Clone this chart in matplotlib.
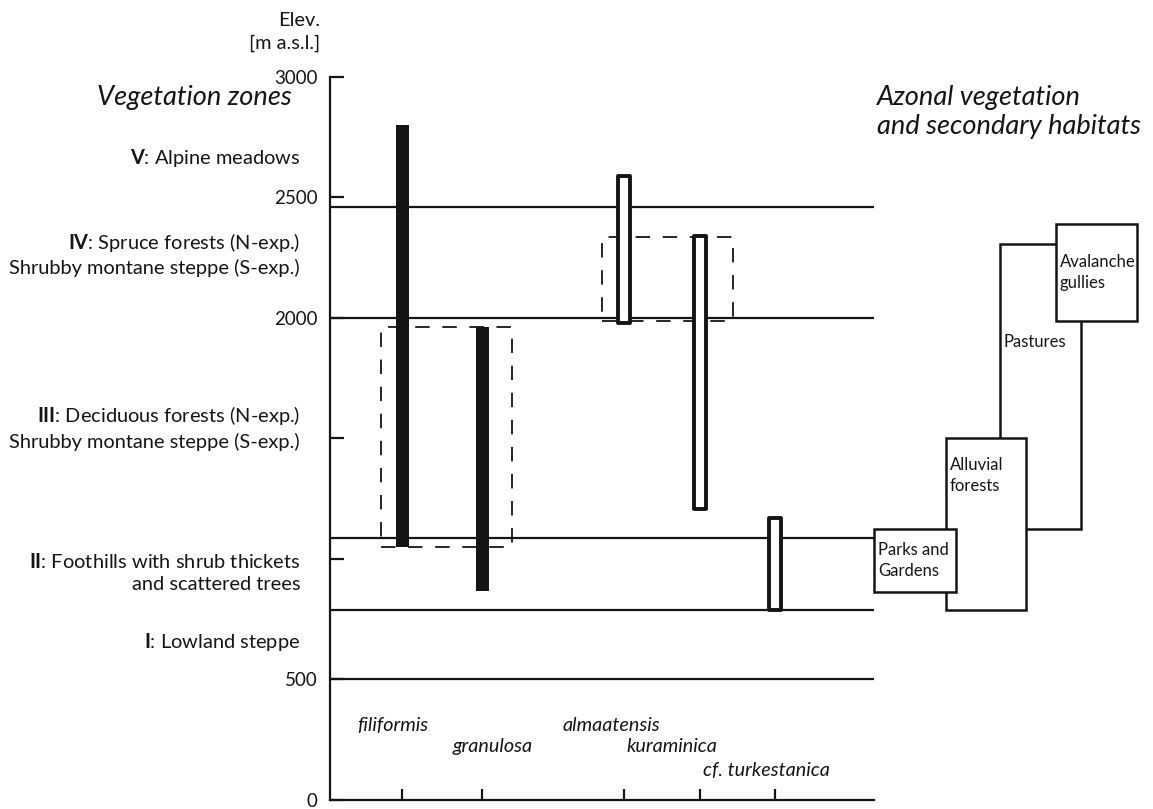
import matplotlib
matplotlib.use("Agg")
import matplotlib.pyplot as plt
from matplotlib.patches import Rectangle

# ---- data ----
species = ["filiformis", "granulosa", "almaatensis", "kuraminica", "cf. turkestanica"]
sp_x = [72, 152, 294, 370, 445]
sp_low = [1050, 865, 1980, 1205, 790]
sp_high = [2800, 1960, 2590, 2340, 1170]
sp_open = [False, False, True, True, True]

zone_bounds = [500, 790, 1085, 2000, 2460]
zone_labels = [
    r"$\mathbf{I}$: Lowland steppe",
    r"$\mathbf{II}$: Foothills with shrub thickets" + "\nand scattered trees",
    r"$\mathbf{III}$: Deciduous forests (N-exp.)" + "\nShrubby montane steppe (S-exp.)",
    r"$\mathbf{IV}$: Spruce forests (N-exp.)" + "\nShrubby montane steppe (S-exp.)",
    r"$\mathbf{V}$: Alpine meadows",
]
zone_label_y = [656, 944, 1545, 2265, 2664]

# dashed groups (x range, elevation range)
grp_x0 = [51, 272]
grp_x1 = [182, 403]
grp_low = [1050, 1985]
grp_high = [1960, 2335]

# azonal habitats
az_names = ["Pastures", "Alluvial\nforests", "Parks and\nGardens", "Avalanche\ngullies"]
az_x0 = [670, 616, 544, 726]
az_x1 = [751, 696, 626, 807]
az_low = [1124, 790, 862, 1985]
az_high = [2305, 1500, 1125, 2390]
az_label_y = [1900, 1346, 993, 2188]

yticks = [0, 500, 1000, 1500, 2000, 2500, 3000]
ytick_labels = ["0", "500", "", "", "2000", "2500", "3000"]

# ---- style ----
plt.rcParams["font.family"] = ["Lato", "DejaVu Sans"]
plt.rcParams["mathtext.fontset"] = "custom"
plt.rcParams["mathtext.rm"] = "Lato"
plt.rcParams["mathtext.bf"] = "Lato:bold"
ink = "#151515"
fs = 14.4

fig = plt.figure(figsize=(11.53, 8.09), dpi=100)
ax = fig.add_axes([330 / 1153, 9 / 809, 823 / 1153, 723.3 / 809])
ax.set_xlim(0, 823)
ax.set_ylim(0, 3000)

for s in ["top", "right"]:
    ax.spines[s].set_visible(False)
ax.spines["left"].set_linewidth(1.6)
ax.spines["bottom"].set_linewidth(1.6)
ax.spines["left"].set_color(ink)
ax.spines["bottom"].set_color(ink)
ax.spines["bottom"].set_bounds(0, 544)

ax.set_yticks(yticks)
ax.set_yticklabels(ytick_labels, fontsize=13.5)
ax.set_xticks(sp_x)
ax.set_xticklabels([])
ax.tick_params(axis="y", direction="in", length=10, width=1.6, pad=9, colors=ink)
ax.tick_params(axis="x", direction="in", length=8, width=1.6, colors=ink)

# zone boundary lines
ax.hlines(zone_bounds, 0, 544, color=ink, lw=1.6)

# dashed groups
for x0, x1, lo, hi in zip(grp_x0, grp_x1, grp_low, grp_high):
    ax.add_patch(Rectangle((x0, lo), x1 - x0, hi - lo, fill=False, ec=ink,
                           lw=1.3, ls=(0, (8, 7)), zorder=2))

# species ranges
for x, lo, hi, op in zip(sp_x, sp_low, sp_high, sp_open):
    if op:
        ax.bar(x, hi - lo, bottom=lo, width=12, facecolor="white", edgecolor=ink,
               linewidth=2.8, joinstyle="round", zorder=3)
    else:
        ax.bar(x, hi - lo, bottom=lo, width=13, color=ink, linewidth=0, zorder=3)

# azonal boxes
for name, x0, x1, lo, hi, ly in zip(az_names, az_x0, az_x1, az_low, az_high, az_label_y):
    ax.add_patch(Rectangle((x0, lo), x1 - x0, hi - lo, facecolor="white",
                           edgecolor=ink, lw=1.8, clip_on=False, zorder=4))
    ax.text(x0 + 4, ly, name, fontsize=12, va="center", ha="left",
            linespacing=1.35, color=ink, zorder=5)

# species names
sp_label_x = [63, 163, 281, 342, 436]
sp_label_y = [311, 220, 311, 220, 124]
for name, lx, ly in zip(species, sp_label_x, sp_label_y):
    ax.text(lx, ly, name, fontsize=14.2, style="italic", ha="center", va="center", color=ink)

# zone labels
for lab, ly in zip(zone_labels, zone_label_y):
    ax.text(-30, ly, lab, fontsize=fs, ha="right", va="center", ma="right",
            linespacing=1.35, color=ink, clip_on=False)

ax.text(-233, 2913, "Vegetation zones", fontsize=19.6, style="italic", ha="left",
        va="center", color=ink, clip_on=False)
ax.text(547, 2852, "Azonal vegetation\nand secondary habitats", fontsize=19.6,
        style="italic", ha="left", va="center", linespacing=1.2, color=ink, clip_on=False)
ax.text(-10, 3185, "Elev.\n[m a.s.l.]", fontsize=fs, ha="right", va="center",
        ma="right", linespacing=1.4, color=ink, clip_on=False)

fig.savefig("out.png", dpi=100)
